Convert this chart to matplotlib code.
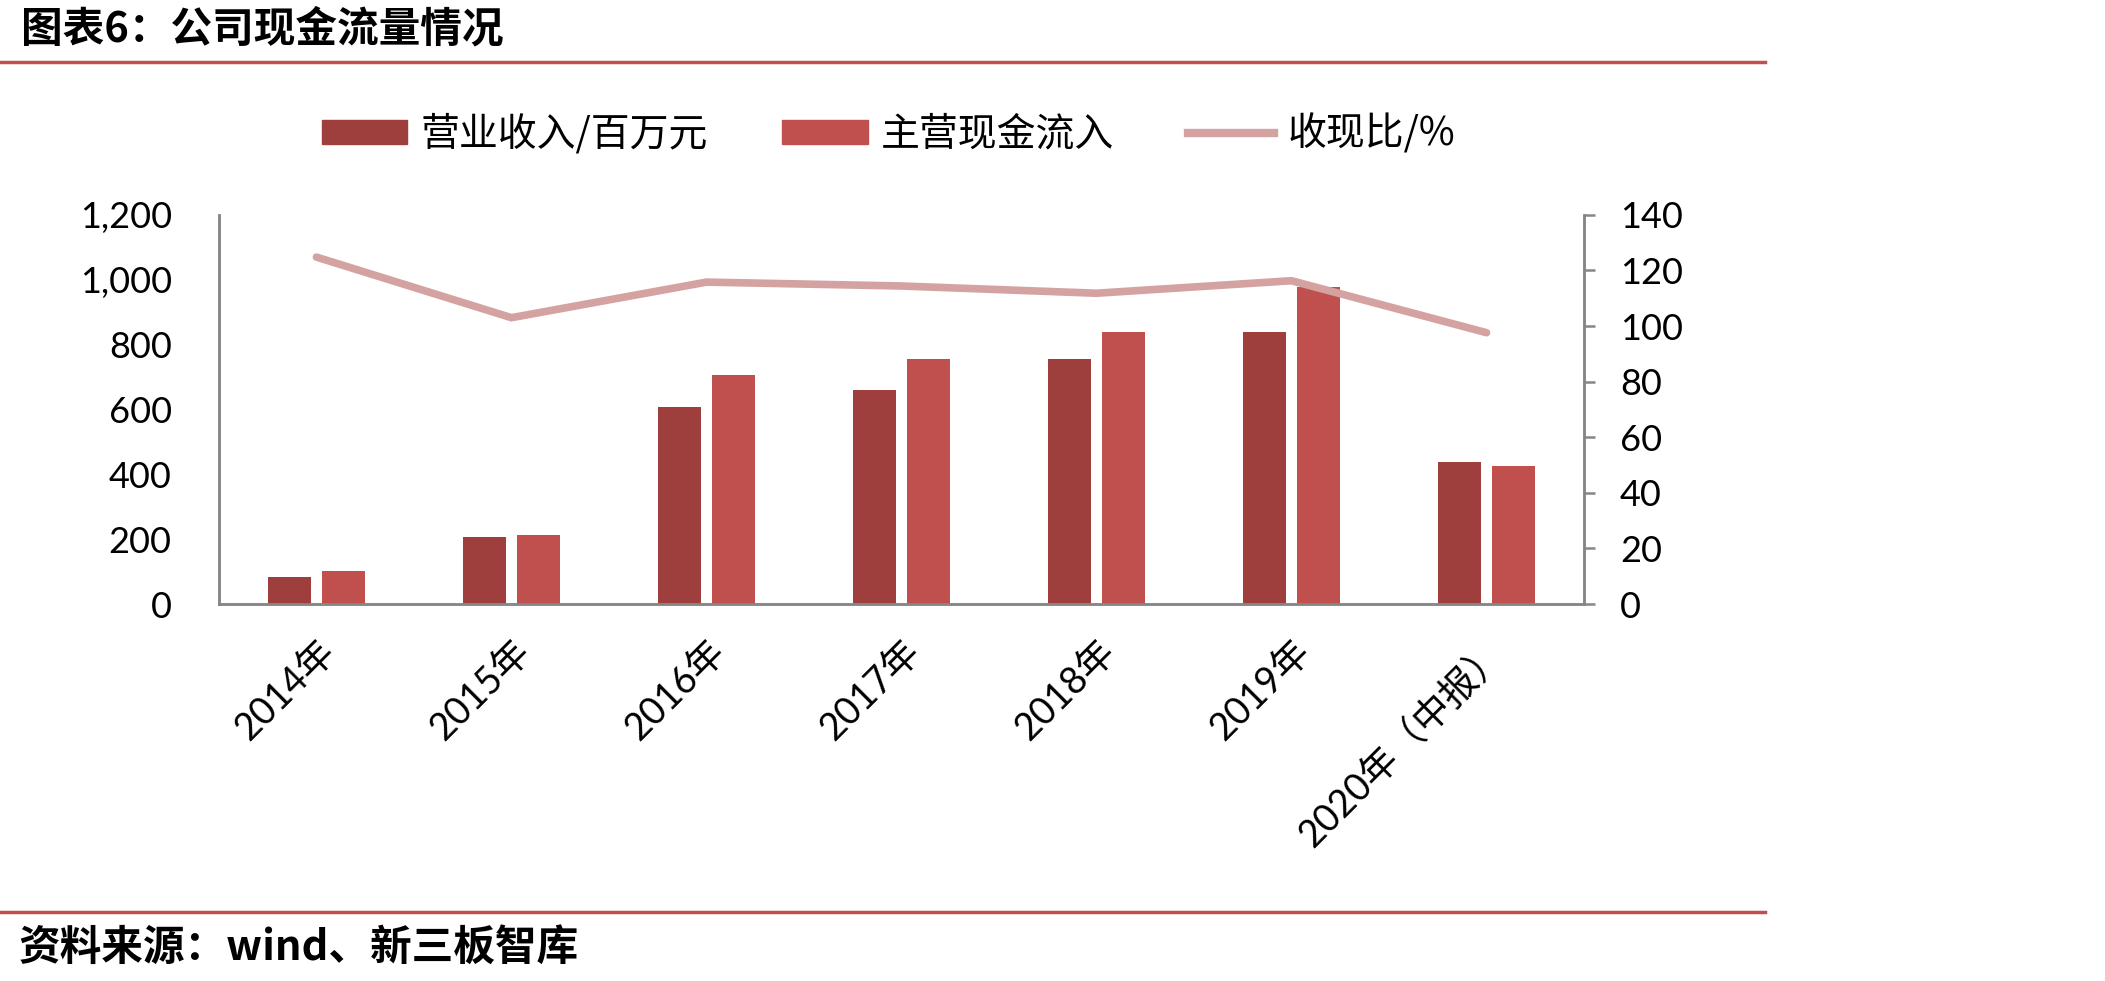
import numpy as np
import matplotlib.pyplot as plt
import matplotlib.transforms as mtransforms
from matplotlib.patches import Patch
from matplotlib.lines import Line2D

# data
years = ['2014年', '2015年', '2016年', '2017年', '2018年', '2019年', '2020年（中报）']
revenue = [82, 206, 608, 660, 754, 840, 439]        # 营业收入/百万元
cash_in = [102, 212, 705, 756, 840, 976, 427]       # 主营现金流入
ratio = [124.8, 103.0, 115.8, 114.4, 111.8, 116.3, 97.6]  # 收现比/%

c_dark = '#9E3F3D'
c_red = '#C0504D'
c_line = '#D4A3A1'
c_axis = '#868686'

cjk = ['Noto Sans CJK SC', 'DejaVu Sans']
num = ['Lato', 'Noto Sans CJK SC']

fig = plt.figure(figsize=(21.05, 9.81), dpi=100)
ax = fig.add_axes([0.104, 0.3843, 0.6485, 0.3967])
ax2 = ax.twinx()

x = np.arange(len(years))
w = 0.22
ax.bar(x - 0.14, revenue, w, color=c_dark, zorder=2)
ax.bar(x + 0.14, cash_in, w, color=c_red, zorder=2)
ax2.plot(x, ratio, color=c_line, lw=5.5, solid_capstyle='round', solid_joinstyle='miter', zorder=3)

ax.set_xlim(-0.5, len(years) - 0.5)
ax.set_ylim(0, 1200)
ax.set_yticks(np.arange(0, 1201, 200))
ax.set_yticklabels(['{:,}'.format(v) for v in range(0, 1201, 200)], family=num, fontsize=26)
ax2.set_ylim(0, 140)
ax2.set_yticks(np.arange(0, 141, 20))
ax2.set_yticklabels([str(v) for v in range(0, 141, 20)], family=num, fontsize=26)

for a in (ax, ax2):
    a.spines['top'].set_visible(False)
    for s in ('left', 'right', 'bottom'):
        a.spines[s].set_color(c_axis)
        a.spines[s].set_linewidth(1.8)
ax.tick_params(axis='y', length=0, pad=34)
ax2.tick_params(axis='y', length=8, width=1.8, color=c_axis, pad=18)
ax.tick_params(axis='x', length=0, pad=8)

ax.set_xticks(x)
ax.set_xticklabels(years, rotation=45, ha='right', va='center', rotation_mode='anchor',
                   family=num, fontsize=27)
off = mtransforms.ScaledTranslation(13 / 100, -31 / 100, fig.dpi_scale_trans)
for lab in ax.get_xticklabels():
    lab.set_transform(lab.get_transform() + off)

handles = [Patch(color=c_dark), Patch(color=c_red), Line2D([], [], color=c_line, lw=6)]
fig.legend(handles, ['营业收入/百万元', '主营现金流入', '收现比/%'], loc='center',
           bbox_to_anchor=(0.422, 0.863), ncol=3, frameon=False,
           prop={'family': cjk, 'size': 28}, handlelength=2.2, handleheight=0.55,
           handletextpad=0.35, columnspacing=1.9)

# title, source and the red rules
fig.text(0.010, 0.970, '图表6：公司现金流量情况', family=cjk, fontsize=30, fontweight='bold', va='center')
fig.text(0.009, 0.033, '资料来源：wind、新三板智库', family=cjk, fontsize=30, fontweight='bold', va='center')
fig.add_artist(Line2D([0, 0.8385], [1 - 62 / 981] * 2, color=c_red, lw=2.5))
fig.add_artist(Line2D([0, 0.8385], [1 - 912 / 981] * 2, color=c_red, lw=2.5))

fig.savefig('out.png', dpi=100)
